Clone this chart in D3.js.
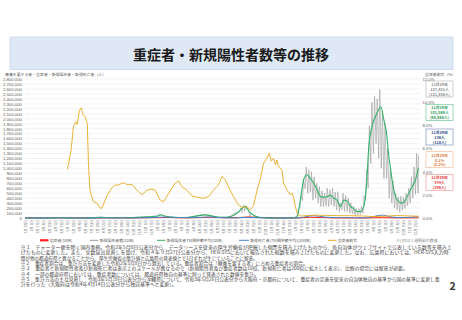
<!DOCTYPE html>
<html>
<head>
<meta charset="utf-8">
<script src="https://cdn.jsdelivr.net/npm/d3@7"></script>
<style>
  body { margin: 0; background: #fff; }
  svg { display: block; font-family: "Noto Sans CJK JP", "Noto Sans", sans-serif; }
</style>
</head>
<body>
<div id="vis"></div>
<script>
// ---- data ----
const title = "重症者・新規陽性者数等の推移";
const leftAxisTitle = "療養を要する者・重症者・新規陽性者・新規死亡者（人）";
const rightAxisTitle = "重症者割合（%）";

// 重症者 (actual count, drawn x10)
const severe = [
  ["2020-01-16",0],["2020-04-30",330],["2020-06-01",100],["2020-07-10",30],["2020-08-20",260],
  ["2020-10-01",170],["2020-11-01",160],["2020-12-01",470],["2021-01-26",1040],["2021-03-01",400],
  ["2021-04-01",380],["2021-05-25",1410],["2021-07-01",600],["2021-08-01",500],["2021-09-03",2220],
  ["2021-10-01",900],["2021-11-01",160],["2021-12-15",30],["2022-01-10",60],["2022-02-15",1500],
  ["2022-03-15",900],["2022-04-15",250],["2022-06-01",80],["2022-07-15",100],["2022-08-25",630],
  ["2022-10-01",200],["2022-11-29",334]
];

// 新規陽性者数 (daily, drawn x10)
const newCases = [
  ["2020-01-16",0],["2020-03-01",20],["2020-03-20",50],["2020-04-11",720],["2020-04-25",300],
  ["2020-05-08",100],["2020-05-25",20],["2020-06-15",60],["2020-07-01",130],["2020-07-15",450],
  ["2020-07-31",1580],["2020-08-07",1600],["2020-08-20",1000],["2020-09-05",550],["2020-10-01",600],
  ["2020-10-20",500],["2020-11-05",1050],["2020-11-20",2400],["2020-12-01",2000],["2020-12-15",3000],
  ["2020-12-31",4500],["2021-01-08",7900],["2021-01-14",6600],["2021-01-25",2000],["2021-02-10",1700],
  ["2021-02-22",700],["2021-03-10",1300],["2021-03-22",800],["2021-04-05",2000],["2021-04-22",5500],
  ["2021-05-08",7200],["2021-05-17",3700],["2021-05-20",5800],["2021-06-01",2600],["2021-06-14",900],
  ["2021-06-24",1800],["2021-07-05",1000],["2021-07-15",3400],["2021-07-29",10700],["2021-08-09",12000],
  ["2021-08-13",20300],["2021-08-16",11000],["2021-08-20",25900],["2021-08-23",13600],["2021-08-26",24900],
  ["2021-09-02",16700],["2021-09-06",4200],["2021-09-09",8900],["2021-09-16",5000],["2021-09-27",1100],
  ["2021-10-07",800],["2021-10-25",150],["2021-11-10",180],["2021-12-01",120],["2021-12-20",170],
  ["2022-01-03",500],
  ["2022-01-10",6000],["2022-01-13",18000],["2022-01-17",20000],["2022-01-20",46000],
  ["2022-01-24",35000],["2022-01-27",78000],["2022-01-31",59000],["2022-02-03",103000],
  ["2022-02-07",50000],["2022-02-10",97000],["2022-02-14",52000],["2022-02-17",93000],
  ["2022-02-21",36000],["2022-02-24",83000],["2022-02-28",40000],["2022-03-03",70000],
  ["2022-03-07",30000],["2022-03-10",63000],["2022-03-14",23000],["2022-03-17",55000],
  ["2022-03-21",23000],["2022-03-24",50000],["2022-03-28",24000],["2022-03-31",60000],
  ["2022-04-04",23000],["2022-04-07",57000],["2022-04-11",27000],["2022-04-14",60000],
  ["2022-04-18",23000],["2022-04-21",52000],["2022-04-25",16000],["2022-04-28",53000],
  ["2022-05-02",13000],["2022-05-05",30000],["2022-05-09",16000],["2022-05-12",50000],
  ["2022-05-16",13000],["2022-05-19",46000],["2022-05-23",13000],["2022-05-26",40000],
  ["2022-05-30",10000],["2022-06-02",30000],["2022-06-06",8000],["2022-06-09",24000],
  ["2022-06-13",6000],["2022-06-16",19000],["2022-06-20",6000],["2022-06-23",19000],
  ["2022-06-27",7000],["2022-06-30",23000],["2022-07-04",10000],["2022-07-07",45000],
  ["2022-07-11",36000],["2022-07-14",97000],["2022-07-18",60000],["2022-07-21",186000],
  ["2022-07-25",110000],["2022-07-28",233000],["2022-08-01",130000],["2022-08-04",245000],
  ["2022-08-08",150000],["2022-08-11",240000],["2022-08-15",120000],["2022-08-18",259000],
  ["2022-08-22",100000],["2022-08-25",215000],["2022-08-29",80000],["2022-09-01",190000],
  ["2022-09-05",80000],["2022-09-08",140000],["2022-09-12",40000],["2022-09-15",100000],
  ["2022-09-19",30000],["2022-09-22",75000],["2022-09-26",20000],["2022-09-29",50000],
  ["2022-10-03",16000],["2022-10-06",42000],["2022-10-10",12000],["2022-10-13",44000],
  ["2022-10-17",16000],["2022-10-20",42000],["2022-10-24",19000],["2022-10-27",50000],
  ["2022-10-31",25000],["2022-11-03",60000],["2022-11-07",30000],["2022-11-10",83000],
  ["2022-11-14",40000],["2022-11-17",103000],["2022-11-21",48000],["2022-11-24",130000],
  ["2022-11-28",50000],["2022-11-29",127421]
];

// 新規陽性者 7日間移動平均 (drawn x10)
const casesAvg = [
  ["2020-01-16",0],["2020-03-01",10],["2020-04-12",530],["2020-05-01",250],["2020-05-20",30],
  ["2020-06-20",60],["2020-07-10",250],["2020-08-05",1350],["2020-08-25",700],["2020-09-20",500],
  ["2020-10-20",550],["2020-11-10",1200],["2020-11-25",2100],["2020-12-15",2600],["2021-01-01",3500],
  ["2021-01-11",6000],["2021-01-25",3500],["2021-02-15",1300],["2021-03-05",1100],["2021-03-25",1500],
  ["2021-04-15",3800],["2021-05-12",6300],["2021-05-30",3700],["2021-06-20",1500],["2021-07-10",2000],
  ["2021-07-28",6500],["2021-08-10",15000],["2021-08-23",23200],["2021-09-05",12500],["2021-09-20",4000],
  ["2021-10-05",1100],["2021-10-25",300],["2021-11-15",150],["2021-12-15",140],["2022-01-01",400],
  ["2022-01-10",2700],["2022-01-14",15000],["2022-01-18",35000],["2022-01-22",55000],["2022-01-27",77000],
  ["2022-02-05",87000],["2022-02-14",80000],["2022-02-23",70000],["2022-03-04",57000],["2022-03-13",43000],
  ["2022-03-21",42000],["2022-03-30",43000],["2022-04-08",46000],["2022-04-17",40000],["2022-04-26",36000],
  ["2022-05-05",23000],["2022-05-14",36000],["2022-05-23",34000],["2022-06-01",23000],["2022-06-09",19000],
  ["2022-06-18",13000],["2022-06-27",13000],["2022-07-06",23000],["2022-07-11",45000],["2022-07-15",85000],
  ["2022-07-19",137000],["2022-07-28",184000],["2022-08-06",204000],["2022-08-15",218000],["2022-08-21",224000],
  ["2022-08-28",200000],["2022-09-06",164000],["2022-09-11",124000],["2022-09-15",103000],["2022-09-20",75000],
  ["2022-09-29",43000],["2022-10-07",33000],["2022-10-16",30000],["2022-10-25",36000],["2022-11-03",50000],
  ["2022-11-12",63000],["2022-11-21",77000],["2022-11-29",101588]
];

// 新規死亡者 7日間移動平均 (drawn x200)
const deathsAvg = [
  ["2020-01-16",0],["2020-04-10",5],["2020-05-01",20],["2020-06-01",3],["2020-07-10",1],
  ["2020-08-25",13],["2020-10-01",6],["2020-11-15",10],["2020-12-20",45],["2021-01-27",95],
  ["2021-02-25",50],["2021-03-25",25],["2021-05-18",104],["2021-06-25",25],["2021-07-20",10],
  ["2021-09-01",60],["2021-10-01",25],["2021-11-01",5],["2021-12-15",2],["2022-01-10",3],
  ["2022-02-22",230],["2022-03-25",90],["2022-04-25",40],["2022-06-01",25],["2022-07-10",15],
  ["2022-08-25",290],["2022-09-20",90],["2022-10-20",45],["2022-11-29",136]
];

// 重症者割合 (%) - right axis
const severeRatio = [
  ["2020-05-08",4.2],["2020-05-18",5.9],["2020-05-24",7.9],["2020-05-31",8.3],["2020-06-03",8.1],
  ["2020-06-09",9.3],["2020-06-14",9.5],["2020-06-19",8.9],["2020-06-25",8.7],["2020-06-30",8.1],
  ["2020-07-03",4.6],["2020-07-07",2.4],["2020-07-16",1.4],["2020-07-25",1.3],["2020-08-03",0.85],
  ["2020-08-08",0.85],["2020-08-21",1.9],["2020-09-03",2.6],["2020-09-12",2.85],["2020-09-21",2.85],
  ["2020-10-04",3.05],["2020-10-13",2.9],["2020-10-27",2.9],["2020-11-09",2.4],["2020-11-22",2.0],
  ["2020-12-06",2.4],["2020-12-19",2.5],["2020-12-28",2.4],["2021-01-10",1.55],["2021-01-19",1.4],
  ["2021-02-01",2.1],["2021-02-19",3.0],["2021-02-28",3.2],["2021-03-09",2.7],["2021-03-22",2.4],
  ["2021-04-05",1.9],["2021-04-18",1.8],["2021-05-05",1.7],["2021-05-19",1.85],["2021-06-01",2.4],
  ["2021-06-14",2.85],["2021-06-24",3.6],["2021-07-02",3.3],["2021-07-11",2.7],["2021-07-24",1.85],
  ["2021-08-07",1.1],["2021-08-16",0.93],["2021-08-29",0.98],["2021-09-07",0.7],["2021-09-16",1.1],
  ["2021-09-25",2.4],["2021-10-04",3.4],["2021-10-12",4.7],["2021-10-21",5.15],["2021-10-28",5.6],
  ["2021-11-02",4.9],["2021-11-08",5.15],["2021-11-13",4.6],["2021-11-17",5.0],["2021-11-21",4.5],
  ["2021-11-30",4.15],["2021-12-05",3.0],["2021-12-14",2.4],["2021-12-23",2.0],["2021-12-27",2.15],
  ["2021-12-31",1.85],["2022-01-05",0.98],["2022-01-10",0.4],["2022-01-18",0.17],["2022-02-01",0.2],
  ["2022-03-01",0.25],["2022-04-01",0.22],["2022-05-01",0.2],["2022-06-01",0.2],["2022-07-01",0.18],
  ["2022-08-01",0.12],["2022-09-01",0.15],["2022-10-01",0.22],["2022-11-01",0.18],["2022-11-29",0.15]
];

const legendNames = ["重症者(10倍)", "新規陽性者数(10倍)", "新規陽性者7日間移動平均(10倍)",
                     "新規死亡者(7日間移動平均)(200倍)", "重症者割合"];
const legendNote = "※()内は１週間前の数值";

// boxes on the right: latest value and (one week before)
const boxTexts = [
  ["11月29日", "127,421人", "(121,558人)"],
  ["11月29日", "101,588人", "(88,088人)"],
  ["11月29日", "136人", "(110人)"],
  ["11月29日", "0.1%", "(0.2%)"],
  ["11月29日", "334人", "(298人)"]
];

const footnotes = [
  "※１　チャーター便を除く国内事例。令和2年5月8日公表分から、データソースを従来の厚生労働省が把握した個票を積み上げたものから、各自治体がウェブサイトで公表している数等を積み上",
  "げたものに変更した。また、全数届出見直しを受け、令和４年９月27日公表分から、HER-SYSにおいて報告された総数を積み上げたものに変更した。なお、広島県においては、HER-SYS入力時",
  "間が他の都道府県と異なることから、厚生労働省の集計値と広島県の発表値とで1日ずれが生じていることに留意。",
  "※２　重症者割合は、集計方法を変更した令和2年5月8日から算出している。重症者割合は「療養を要する者」に占める重症者の割合。",
  "※３　重症者と新規陽性者及び新規死亡者は表示上のスケールが異なるので（新規陽性者及び重症者数は10倍、新規死亡者は200倍に拡大して表示）、比較の場合には留意が必要。",
  "※４　一部の都道府県においては、重症者数については、都道府県独自の基準に則って発表された数値を集計。",
  "※５　集計方法の主な見直し：令和3年5月19日公表分から沖縄県について、令和3年5月26日公表分から大阪府・京都府について、重症者の定義を従来の自治体独自の基準から国の基準に変更し集",
  "計を行った（大阪府は令和4年4月14日公表分から独自基準へと変更）。"
];
const pageNumber = "2";

// ---- layout ----
const W = 462, H = 320;
const plot = { left: 25, right: 418.5, top: 79, bottom: 218 };
const colors = { severe: "#ff1f1f", cases: "#9a9a9a", avg: "#33b26a", deaths: "#4a84c4", ratio: "#e9a91c" };
const boxColors = [
  { stroke: "#b0b0b0", text: "#8a8a8a" },
  { stroke: "#5cc085", text: "#2ea05a" },
  { stroke: "#6a7fb0", text: "#2f4a8c" },
  { stroke: "#f3b68a", text: "#e07b3a" },
  { stroke: "#f08a8a", text: "#e23a3a" }
];
// rendered width of each footnote line in the reference
const footWidths = [431, 428, 237, 287, 387, 238, 419, 156];

const parse = d3.timeParse("%Y-%m-%d");
const toPts = (arr, k) => arr.map(([d, v]) => ({ date: parse(d), value: v * k }));

const svg = d3.select("#vis").append("svg")
    .attr("width", W)
    .attr("height", H);

// title band
svg.append("rect")
    .attr("x", 10).attr("y", 37).attr("width", 443).attr("height", 32.5)
    .attr("fill", "#dee9f5").attr("stroke", "#c8d7ea").attr("stroke-width", 0.8);
svg.append("text")
    .attr("x", 231).attr("y", 60)
    .attr("text-anchor", "middle")
    .attr("font-size", 14).attr("font-weight", "bold").attr("fill", "#1a1a1a")
    .text(title);

const x = d3.scaleTime()
    .domain([parse("2020-01-16"), parse("2022-11-29")])
    .range([plot.left, plot.right]);
const yL = d3.scaleLinear().domain([0, 2800000]).range([plot.bottom, plot.top]);
const yR = d3.scaleLinear().domain([0, 12]).range([plot.bottom, plot.top]);

// grid + left axis
const leftTicks = yL.ticks(28);
svg.append("g").selectAll("line").data(leftTicks).join("line")
    .attr("x1", plot.left).attr("x2", plot.right + 1.5)
    .attr("y1", d => yL(d)).attr("y2", d => yL(d))
    .attr("stroke", d => d === 0 ? "#cfcfcf" : "#e6e6e6")
    .attr("stroke-width", 0.5);

const axisL = svg.append("g")
    .attr("transform", `translate(${plot.left - 3},0)`)
    .call(d3.axisLeft(yL).tickValues(leftTicks).tickSize(0).tickPadding(0).tickFormat(d3.format(",")));
axisL.select(".domain").remove();
axisL.selectAll("text").attr("font-size", 4.3).attr("fill", "#595959")
    .attr("font-family", "Liberation Sans, Arial, sans-serif");

const axisR = svg.append("g")
    .attr("transform", `translate(${plot.right + 4},0)`)
    .call(d3.axisRight(yR).ticks(6).tickSize(0).tickPadding(0).tickFormat(d => d.toFixed(1) + "%"));
axisR.select(".domain").remove();
axisR.selectAll("text").attr("font-size", 4.3).attr("fill", "#595959")
    .attr("font-family", "Liberation Sans, Arial, sans-serif");

svg.append("text").attr("x", 5).attr("y", 75.8)
    .attr("font-size", 3.9).attr("fill", "#595959").text(leftAxisTitle);
svg.append("text").attr("x", 425).attr("y", 75.8)
    .attr("font-size", 3.9).attr("fill", "#595959").text(rightAxisTitle);

// x axis labels (every 16 days, rotated)
const xTicks = d3.timeDay.range(x.domain()[0], d3.timeDay.offset(x.domain()[1], 1), 16);
const axisX = svg.append("g")
    .attr("transform", `translate(0,${plot.bottom + 1.5})`)
    .call(d3.axisBottom(x).tickValues(xTicks).tickSize(0).tickPadding(0).tickFormat(d3.timeFormat("%-m月%-d日")));
axisX.select(".domain").remove();
axisX.selectAll("text")
    .attr("font-size", 3.6).attr("fill", "#707070")
    .attr("text-anchor", "end")
    .attr("dy", "0.35em")
    .attr("transform", "rotate(-90)");

// series
const lineL = d3.line().x(d => x(d.date)).y(d => yL(d.value));
const smoothL = d3.line().x(d => x(d.date)).y(d => yL(d.value)).curve(d3.curveMonotoneX);
const lineR = d3.line().x(d => x(d.date)).y(d => yR(d.value));

svg.append("path").datum(toPts(newCases, 10))
    .attr("fill", "none").attr("stroke", colors.cases).attr("stroke-width", 0.6)
    .attr("stroke-linejoin", "round").attr("d", lineL);
svg.append("path").datum(toPts(severe, 10))
    .attr("fill", "none").attr("stroke", colors.severe).attr("stroke-width", 1)
    .attr("d", smoothL);
svg.append("path").datum(toPts(casesAvg, 10))
    .attr("fill", "none").attr("stroke", colors.avg).attr("stroke-width", 1.1)
    .attr("d", smoothL);
svg.append("path").datum(toPts(deathsAvg, 200))
    .attr("fill", "none").attr("stroke", colors.deaths).attr("stroke-width", 1)
    .attr("d", smoothL);
svg.append("path").datum(toPts(severeRatio, 1))
    .attr("fill", "none").attr("stroke", colors.ratio).attr("stroke-width", 0.9)
    .attr("stroke-linejoin", "round").attr("d", lineR);

// value boxes at the right
const boxTop = [81, 104.3, 129, 151.7, 174.3];
const boxes = svg.append("g").selectAll("g").data(boxTexts).join("g")
    .attr("transform", (d, i) => `translate(426,${boxTop[i]})`);
boxes.append("rect")
    .attr("width", 27).attr("height", 16)
    .attr("fill", "#fff")
    .attr("stroke", (d, i) => boxColors[i].stroke).attr("stroke-width", 0.6);
boxes.each(function(d, i) {
    d3.select(this).selectAll("text").data(d).join("text")
        .attr("x", 13.5).attr("y", (t, j) => 5.2 + j * 4.7)
        .attr("text-anchor", "middle")
        .attr("font-size", 3.8).attr("font-weight", "bold")
        .attr("fill", boxColors[i].text)
        .text(t => t);
});

// legend
const legendColors = [colors.severe, colors.cases, colors.avg, colors.deaths, colors.ratio];
const legendX = [40, 90, 157, 239, 328];
const legendLen = [8.5, 8.5, 8.5, 10, 8.5];
const legend = svg.append("g").selectAll("g").data(legendNames).join("g")
    .attr("transform", (d, i) => `translate(${legendX[i]},240.3)`);
legend.append("line")
    .attr("x1", 0).attr("x2", (d, i) => legendLen[i])
    .attr("stroke", (d, i) => legendColors[i])
    .attr("stroke-width", (d, i) => i === 0 ? 2.2 : 1);
legend.append("text")
    .attr("x", (d, i) => legendLen[i] + 1.2).attr("dy", "0.35em")
    .attr("font-size", 3.9).attr("fill", "#595959")
    .text(d => d);
svg.append("text").attr("x", 396).attr("y", 240.3).attr("dy", "0.35em")
    .attr("font-size", 3.9).attr("fill", "#7f7f7f").text(legendNote);

// footnotes
svg.append("g").selectAll("text").data(footnotes).join("text")
    .attr("x", 20.7).attr("y", (d, i) => 248.9 + i * 5.36)
    .attr("font-size", 4.6).attr("fill", "#404040")
    .attr("textLength", (d, i) => footWidths[i])
    .attr("lengthAdjust", "spacingAndGlyphs")
    .text(d => d);

svg.append("text").attr("x", 452.7).attr("y", 290.3)
    .attr("text-anchor", "middle")
    .attr("font-size", 10.5).attr("font-weight", "bold").attr("fill", "#333")
    .text(pageNumber);
</script>
</body>
</html>
